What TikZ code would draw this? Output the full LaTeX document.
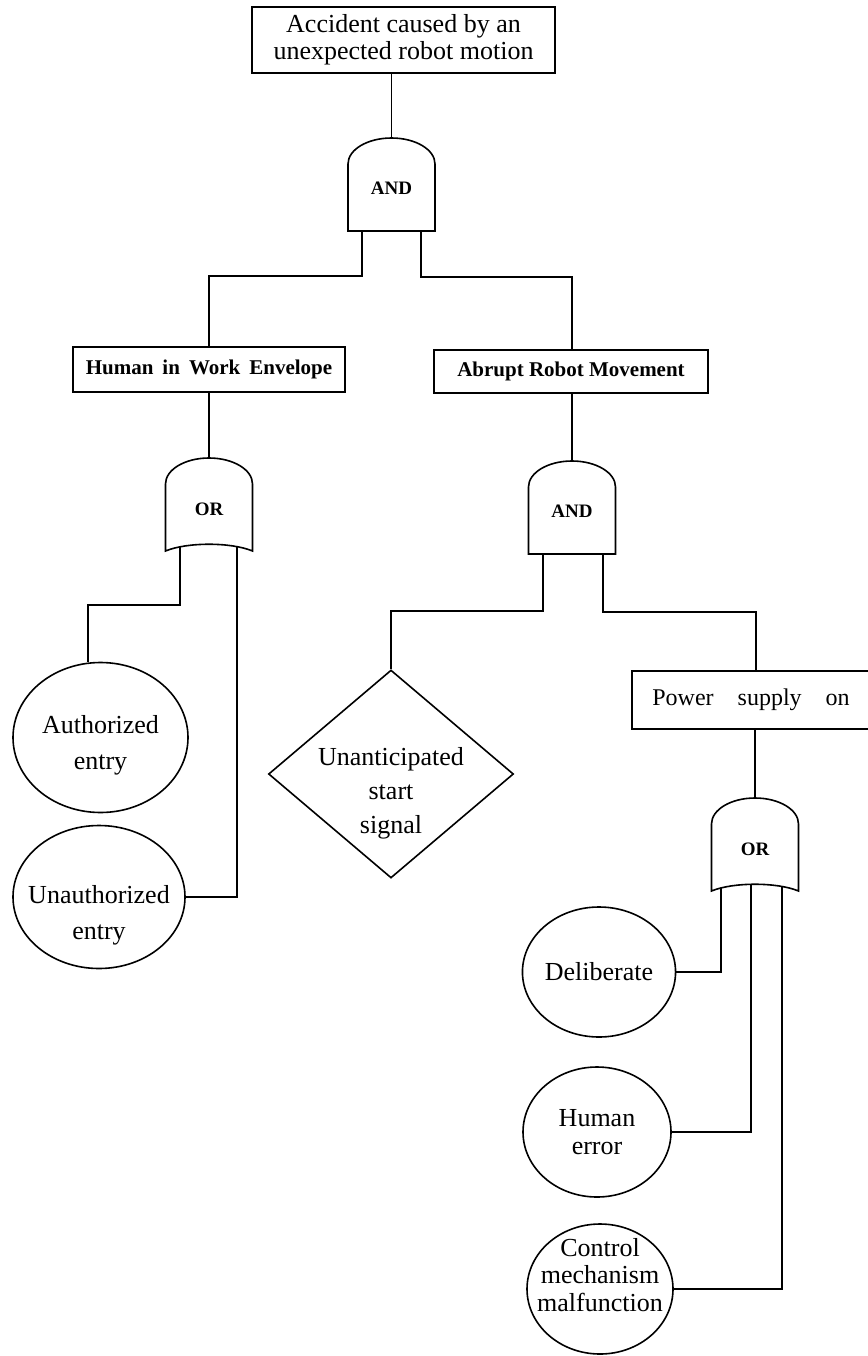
\documentclass[tikz,border=0pt]{standalone}
\usepackage{fontspec}
\setmainfont{Liberation Serif}
\usetikzlibrary{shapes.geometric}
\pgfdeclarelayer{bg}
\pgfsetlayers{bg,main}

\tikzset{
  gatetext/.style={font=\bfseries\fontsize{19}{20}\selectfont},
  % AND gate: flat bottom, rounded top; origin at the top of the dome
  pics/andgate/.style={code={
    \draw[fill=white] (-43.5,93) -- (-43.5,26)
      .. controls (-43.5,11.6) and (-24,0) .. (0,0)
      .. controls (24,0) and (43.5,11.6) .. (43.5,26)
      -- (43.5,93) -- cycle;
    \coordinate (-top) at (0,0);
    \coordinate (-bot) at (0,80);
    \node[gatetext] (-lbl) at (0,50) {AND};
  }},
  % OR gate: same dome, concave bottom edge
  pics/orgate/.style={code={
    \draw[fill=white] (-43.5,93) -- (-43.5,26)
      .. controls (-43.5,11.6) and (-24,0) .. (0,0)
      .. controls (24,0) and (43.5,11.6) .. (43.5,26)
      -- (43.5,93) .. controls (22,84) and (-22,84) .. (-43.5,93) -- cycle;
    \coordinate (-top) at (0,0);
    \coordinate (-bot) at (0,80);
    \node[gatetext] (-lbl) at (0,51) {OR};
  }},
}

\begin{document}
\begin{tikzpicture}[x=1pt,y=-1pt,line width=1.6pt,
  every node/.style={inner sep=0pt},
  evbox/.style={draw, rectangle, align=center},
  evell/.style={draw, ellipse},
  evtext/.style={align=center, font=\fontsize{26}{36}\selectfont},
  conn/.style={line width=1.6pt},
]
\useasboundingbox (0,0) rectangle (867,1356);

% top event
\node[evbox, minimum width=303pt, minimum height=66pt,
      font=\fontsize{26}{27}\selectfont] (top) at (403.5,40)
  {Accident caused by an\\unexpected robot motion};
\pic (g1) at (391.5,138) {andgate};

% intermediate events
\node[evbox, minimum width=272pt, minimum height=45pt,
      font=\bfseries\fontsize{21}{22}\selectfont] (hum) at (209,369.5)
  {Human\hspace{0.43em}in\hspace{0.43em}Work\hspace{0.43em}Envelope};
\node[evbox, minimum width=274pt, minimum height=43pt,
      font=\bfseries\fontsize{21}{22}\selectfont] (abr) at (571,371.5)
  {Abrupt Robot Movement};

\pic (g2) at (209,458) {orgate};
\pic (g3) at (572,461) {andgate};

% left basic events
\node[evell, minimum width=175pt, minimum height=150pt] (auth) at (100.5,737.5) {};
\node[evtext] (authtext) at (100.5,745) {Authorized\\entry};
\node[evell, minimum width=172pt, minimum height=143pt] (unauth) at (99,897) {};
\node[evtext] (unauthtext) at (99,915) {Unauthorized\\entry};

% undeveloped event
\node[draw, diamond, minimum width=245pt, minimum height=208pt] (sig) at (391,774) {};
\node[evtext, font=\fontsize{26}{34}\selectfont] (sigtext) at (391,793)
  {Unanticipated\\start\\signal};

% power supply
\node[evbox, minimum width=238pt, minimum height=58pt,
      font=\fontsize{24}{25}\selectfont] (pow) at (751,700)
  {Power\hspace{1em}supply\hspace{1em}on};
\pic (g4) at (755,798) {orgate};

% right basic events
\node[evell, minimum width=148pt, minimum height=130pt,
      align=center, font=\fontsize{26}{27.5}\selectfont] (del) at (599,972) {Deliberate};
\node[evell, minimum width=148pt, minimum height=130pt,
      align=center, font=\fontsize{26}{27.5}\selectfont] (her) at (597,1132) {Human\\error};
\node[evell, minimum width=146pt, minimum height=130pt] (ctl) at (600,1289) {};
\node[evtext, font=\fontsize{26}{27.5}\selectfont] (ctltext) at (600,1275)
  {Control\\mechanism\\malfunction};

% junction points of the connectors
\coordinate (k1) at (209,276);
\coordinate (k2) at (572,277);
\coordinate (k3) at (88,605);
\coordinate (k4) at (391,611);
\coordinate (k5) at (756,612);

% connectors sit under the gates, so their ends inside a gate are hidden
\begin{pgfonlayer}{bg}
\fill[white] (0,0) rectangle (867,1356);
\draw[conn] (g1-top) -- (g1-top |- top.south);
\draw[conn] ([xshift=-29.5pt]g1-bot) |- (k1) -- (hum.north);
\draw[conn] ([xshift=29.5pt]g1-bot) |- (k2) -- (k2 |- abr.north);
\draw[conn] (g2-top) -- (g2-top |- hum.south);
\draw[conn] ([xshift=-29pt]g2-bot) |- (k3) -- (k3 |- auth.north);
\draw[conn] ([xshift=28pt]g2-bot) |- (unauth.east);
\draw[conn] (g3-top) -- (g3-top |- abr.south);
\draw[conn] ([xshift=-29pt]g3-bot) |- (k4) -- (sig.north);
\draw[conn] ([xshift=31pt]g3-bot) |- (k5) -- (k5 |- pow.north);
\draw[conn] (g4-top) -- (g4-top |- pow.south);
\draw[conn] ([xshift=-34pt]g4-bot) |- (del.east);
\draw[conn] ([xshift=-4pt]g4-bot) |- (her.east);
\draw[conn] ([xshift=27pt]g4-bot) |- (ctl.east);
\end{pgfonlayer}
\end{tikzpicture}
\end{document}
